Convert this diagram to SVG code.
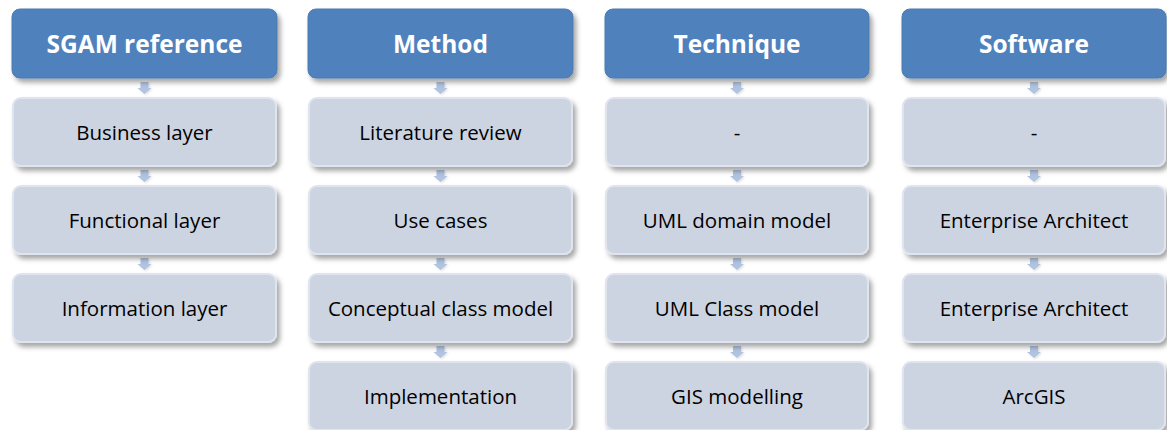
<svg xmlns="http://www.w3.org/2000/svg" width="1167" height="430" viewBox="0 0 1167 430">
<style>
.hdr{fill:#4f81bd;stroke:#4a7ab4;stroke-width:1}
.box{fill:#cdd4e1;stroke:#dfe4ee;stroke-width:2}
.ht{font-family:"Open Sans","Liberation Sans",sans-serif;font-weight:bold;font-size:24.5px;fill:#ffffff;text-anchor:middle;dominant-baseline:central}
.bt{font-family:"Open Sans","Liberation Sans",sans-serif;font-size:20.5px;fill:#000000;text-anchor:middle;dominant-baseline:central}
.arr{fill:#b0c3e0}
</style>
<defs>
<filter id="sh" x="-10%" y="-20%" width="125%" height="160%">
<feDropShadow dx="3" dy="4" stdDeviation="2.5" flood-color="#000" flood-opacity="0.35"/>
</filter>
<filter id="ash" x="-50%" y="-50%" width="200%" height="200%">
<feDropShadow dx="1" dy="1" stdDeviation="1" flood-color="#000" flood-opacity="0.15"/>
</filter>
<path id="a" d="M-4,0 h8 v6 h3 l-7,6 l-7,-6 h3 z"/>
</defs>
<g id="connectors">
<use href="#a" class="arr" x="144.5" y="82" filter="url(#ash)"/>
<use href="#a" class="arr" x="144.5" y="170" filter="url(#ash)"/>
<use href="#a" class="arr" x="144.5" y="258" filter="url(#ash)"/>
<use href="#a" class="arr" x="440.5" y="82" filter="url(#ash)"/>
<use href="#a" class="arr" x="440.5" y="170" filter="url(#ash)"/>
<use href="#a" class="arr" x="440.5" y="258" filter="url(#ash)"/>
<use href="#a" class="arr" x="440.5" y="346" filter="url(#ash)"/>
<use href="#a" class="arr" x="737" y="82" filter="url(#ash)"/>
<use href="#a" class="arr" x="737" y="170" filter="url(#ash)"/>
<use href="#a" class="arr" x="737" y="258" filter="url(#ash)"/>
<use href="#a" class="arr" x="737" y="346" filter="url(#ash)"/>
<use href="#a" class="arr" x="1034" y="82" filter="url(#ash)"/>
<use href="#a" class="arr" x="1034" y="170" filter="url(#ash)"/>
<use href="#a" class="arr" x="1034" y="258" filter="url(#ash)"/>
<use href="#a" class="arr" x="1034" y="346" filter="url(#ash)"/>
</g>
<g id="h1"><rect class="hdr" x="12" y="9" width="265" height="69" rx="8" filter="url(#sh)"/><text class="ht" x="144.5" y="43.5">SGAM reference</text></g>
<g id="h2"><rect class="hdr" x="308" y="9" width="265" height="69" rx="8" filter="url(#sh)"/><text class="ht" x="440.5" y="43.5">Method</text></g>
<g id="h3"><rect class="hdr" x="605" y="9" width="264" height="69" rx="8" filter="url(#sh)"/><text class="ht" x="737" y="43.5">Technique</text></g>
<g id="h4"><rect class="hdr" x="902" y="9" width="264" height="69" rx="8" filter="url(#sh)"/><text class="ht" x="1034" y="43.5">Software</text></g>

<g id="n11"><rect class="box" x="13" y="98" width="263" height="68" rx="8" filter="url(#sh)"/><text class="bt" x="144.5" y="132">Business layer</text></g>
<g id="n12"><rect class="box" x="13" y="186" width="263" height="68" rx="8" filter="url(#sh)"/><text class="bt" x="144.5" y="220">Functional layer</text></g>
<g id="n13"><rect class="box" x="13" y="274" width="263" height="68" rx="8" filter="url(#sh)"/><text class="bt" x="144.5" y="308">Information layer</text></g>

<g id="n21"><rect class="box" x="309" y="98" width="263" height="68" rx="8" filter="url(#sh)"/><text class="bt" x="440.5" y="132">Literature review</text></g>
<g id="n22"><rect class="box" x="309" y="186" width="263" height="68" rx="8" filter="url(#sh)"/><text class="bt" x="440.5" y="220">Use cases</text></g>
<g id="n23"><rect class="box" x="309" y="274" width="263" height="68" rx="8" filter="url(#sh)"/><text class="bt" x="440.5" y="308">Conceptual class model</text></g>
<g id="n24"><rect class="box" x="309" y="362" width="263" height="68" rx="8" filter="url(#sh)"/><text class="bt" x="440.5" y="396">Implementation</text></g>

<g id="n31"><rect class="box" x="606" y="98" width="262" height="68" rx="8" filter="url(#sh)"/><text class="bt" x="737" y="132">-</text></g>
<g id="n32"><rect class="box" x="606" y="186" width="262" height="68" rx="8" filter="url(#sh)"/><text class="bt" x="737" y="220">UML domain model</text></g>
<g id="n33"><rect class="box" x="606" y="274" width="262" height="68" rx="8" filter="url(#sh)"/><text class="bt" x="737" y="308">UML Class model</text></g>
<g id="n34"><rect class="box" x="606" y="362" width="262" height="68" rx="8" filter="url(#sh)"/><text class="bt" x="737" y="396">GIS modelling</text></g>

<g id="n41"><rect class="box" x="903" y="98" width="262" height="68" rx="8" filter="url(#sh)"/><text class="bt" x="1034" y="132">-</text></g>
<g id="n42"><rect class="box" x="903" y="186" width="262" height="68" rx="8" filter="url(#sh)"/><text class="bt" x="1034" y="220">Enterprise Architect</text></g>
<g id="n43"><rect class="box" x="903" y="274" width="262" height="68" rx="8" filter="url(#sh)"/><text class="bt" x="1034" y="308">Enterprise Architect</text></g>
<g id="n44"><rect class="box" x="903" y="362" width="262" height="68" rx="8" filter="url(#sh)"/><text class="bt" x="1034" y="396">ArcGIS</text></g>
</svg>
